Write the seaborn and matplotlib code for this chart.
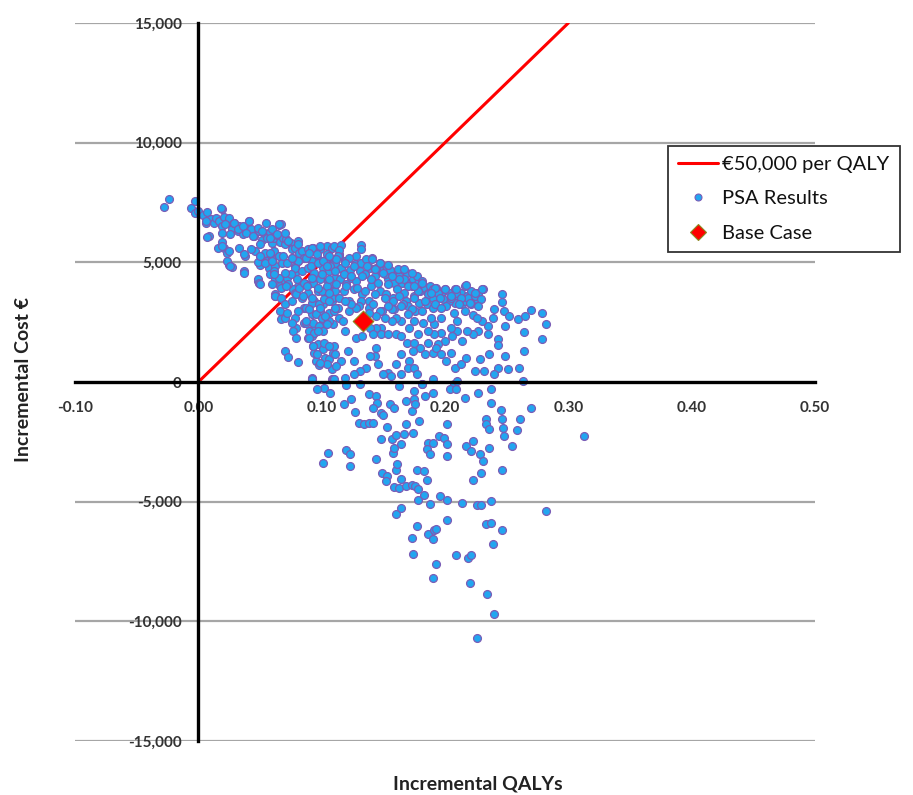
import numpy as np
import pandas as pd
import matplotlib
matplotlib.use("Agg")
import matplotlib.pyplot as plt
import seaborn as sns
from matplotlib.lines import Line2D

# ---------------- data ----------------
wtp_threshold = 50000          # euro per QALY
wtp_qaly = [0.0, 0.30]

base_case_qaly = [0.1335]
base_case_cost = [2550]

x_ticks = [-0.10, 0.00, 0.10, 0.20, 0.30, 0.40, 0.50]
y_ticks = [-15000, -10000, -5000, 0, 5000, 10000, 15000]

# PSA results: (incremental QALY, incremental cost)
psa_upper_left = [
    (-0.028, 7320), (-0.024, 7630), (-0.003, 7560), (-0.006, 7280), (-0.003, 7050),
    (0.000, 7140), (0.004, 6960), (0.006, 6650), (0.007, 7100), (0.010, 6800),
    (0.013, 6630), (0.014, 6860), (0.017, 6725), (0.019, 7240), (0.019, 6515),
    (0.021, 6910), (0.023, 6650), (0.025, 6860), (0.027, 6400), (0.029, 6630),
    (0.032, 6310), (0.033, 6520), (0.036, 6170), (0.038, 6400), (0.041, 6725),
    (0.043, 6380), (0.045, 6100), (0.049, 6310), (0.052, 5930), (0.053, 6240),
    (0.056, 6030), (0.058, 6270), (0.060, 5820), (0.061, 6030), (0.064, 6130),
    (0.065, 6545), (0.066, 5850), (0.069, 6030), (0.070, 5750), (0.071, 5960),
    (0.075, 5820), (0.076, 5540), (0.078, 5610), (0.081, 5890), (0.082, 5400),
    (0.006, 6725), (0.009, 6100), (0.018, 7280), (0.019, 6240), (0.022, 6590),
    (0.026, 6170), (0.029, 6660), (0.032, 6380), (0.036, 6520), (0.039, 6240),
    (0.041, 6730), (0.044, 6100), (0.048, 6450), (0.052, 6310), (0.055, 6660),
    (0.058, 6030), (0.060, 6380), (0.064, 6170), (0.067, 6590), (0.070, 6240),
    (0.065, 6590), (0.073, 5890), (0.081, 5750), (0.084, 5470),
]

psa_upper_mid = [
    (0.007, 6070), (0.019, 5850), (0.021, 5610), (0.016, 5610), (0.023, 5400),
    (0.025, 4870), (0.027, 4800), (0.038, 5260), (0.037, 4590), (0.046, 5470),
    (0.050, 5260), (0.050, 4870), (0.048, 5010), (0.054, 5400), (0.056, 5050),
    (0.057, 4770), (0.060, 5120), (0.061, 5470), (0.062, 4840), (0.065, 5260),
    (0.068, 4980), (0.069, 5260), (0.072, 4980), (0.076, 5190), (0.078, 4840),
    (0.081, 5050), (0.058, 4500), (0.062, 4290), (0.048, 4220), (0.049, 4150),
    (0.066, 4010), (0.070, 4220), (0.072, 4360), (0.078, 4570), (0.081, 4010),
    (0.077, 3870), (0.062, 3660), (0.019, 5680), (0.025, 5470), (0.023, 5050),
    (0.026, 4840), (0.033, 5610), (0.037, 5330), (0.043, 5540), (0.050, 5750),
    (0.050, 5260), (0.054, 4980), (0.058, 5400), (0.060, 5050), (0.037, 4630),
    (0.048, 4290), (0.049, 4150), (0.062, 3590), (0.061, 4630), (0.065, 4350),
    (0.089, 5540), (0.093, 5610), (0.099, 5540), (0.104, 5680), (0.108, 5610),
    (0.114, 5330), (0.110, 5050), (0.104, 5190), (0.097, 5120), (0.092, 5050),
    (0.086, 5190), (0.081, 5050), (0.076, 5190), (0.078, 4770), (0.084, 4630),
    (0.089, 4770), (0.094, 4560), (0.101, 4770), (0.106, 4630), (0.113, 4770),
    (0.111, 4350), (0.105, 4220), (0.099, 4290), (0.093, 4150), (0.087, 4080),
    (0.080, 4290), (0.075, 4500), (0.070, 4560), (0.073, 4080), (0.067, 3940),
    (0.078, 3730), (0.084, 3520), (0.089, 3730), (0.097, 3800), (0.104, 3660),
    (0.110, 3730), (0.108, 3390), (0.101, 3250), (0.094, 3390), (0.086, 3110),
    (0.092, 2830), (0.099, 2970), (0.106, 2900), (0.113, 3110), (0.114, 2690),
    (0.109, 2410), (0.101, 2550), (0.094, 2270), (0.086, 2480), (0.078, 2690),
    (0.079, 2270),
]

psa_low_left = [
    (0.037, 4570), (0.050, 4080), (0.061, 4500), (0.060, 4080), (0.062, 3590),
    (0.067, 3520), (0.066, 2970), (0.067, 2620), (0.070, 2690), (0.070, 3250),
    (0.071, 4010), (0.072, 2900), (0.076, 2480), (0.077, 2130), (0.079, 1850),
    (0.070, 1300), (0.073, 1040), (0.081, 850), (0.076, 3390), (0.079, 3660),
    (0.081, 2970), (0.082, 3940), (0.085, 3590), (0.086, 4150), (0.087, 3110),
    (0.087, 2480), (0.089, 1850), (0.092, 1920), (0.090, 2130), (0.093, 2480),
    (0.094, 2060), (0.095, 2830), (0.092, 3320), (0.098, 3250), (0.100, 3800),
    (0.102, 3450), (0.098, 2340), (0.101, 2130), (0.097, 1570), (0.094, 1220),
    (0.093, 1500), (0.101, 1360), (0.102, 1640), (0.095, 870), (0.098, 730),
    (0.103, 1020), (0.106, 950), (0.108, 540), (0.109, 1220), (0.110, 1500),
    (0.106, 2550), (0.110, 2970), (0.108, 3520), (0.110, 4010), (0.092, 110),
    (0.108, 110), (0.102, -230),
]

psa_core = [
    (0.092, 5610), (0.099, 5680), (0.110, 5680), (0.132, 5720), (0.132, 5540),
    (0.128, 5260), (0.141, 5190), (0.147, 4980), (0.087, 5190), (0.091, 4840),
    (0.097, 4980), (0.104, 5330), (0.111, 4980), (0.116, 4770), (0.119, 5050),
    (0.123, 4700), (0.127, 4910), (0.131, 4630), (0.135, 4500), (0.139, 4770),
    (0.143, 4420), (0.148, 4630), (0.153, 4770), (0.154, 4290), (0.158, 4420),
    (0.162, 4630), (0.165, 4150), (0.169, 4560), (0.170, 4080), (0.174, 4290),
    (0.178, 4150), (0.180, 3800), (0.184, 3940), (0.188, 4010), (0.190, 3520),
    (0.193, 3940), (0.197, 3660), (0.200, 3870), (0.204, 3730), (0.208, 3870),
    (0.210, 3520), (0.213, 3730), (0.216, 4010), (0.218, 3590), (0.221, 3800),
    (0.224, 3450), (0.227, 3730), (0.231, 3870), (0.221, 3250), (0.214, 3250),
    (0.208, 3320), (0.203, 3390), (0.090, 5400), (0.096, 5330), (0.101, 5050),
    (0.107, 4840), (0.114, 5260), (0.122, 5190), (0.124, 4350), (0.128, 4220),
    (0.132, 4980), (0.136, 5120), (0.144, 4770), (0.151, 4500), (0.155, 4700),
    (0.159, 4150), (0.163, 4420), (0.167, 4290), (0.173, 4010), (0.177, 4420),
    (0.181, 4220), (0.186, 3730), (0.190, 3870), (0.194, 3730), (0.198, 3450),
    (0.205, 3520), (0.209, 3730), (0.216, 3390), (0.219, 3520), (0.224, 3590),
    (0.229, 3450), (0.092, 4350), (0.100, 4500), (0.108, 4150), (0.115, 4290),
    (0.120, 4080), (0.126, 3870), (0.133, 3660), (0.140, 4010), (0.147, 3800),
    (0.152, 3660), (0.158, 3520), (0.164, 3660), (0.168, 3390), (0.175, 3590),
    (0.179, 3320), (0.185, 3250), (0.190, 3110), (0.176, 2970), (0.170, 3180),
    (0.149, 2970), (0.159, 3040), (0.138, 3390), (0.132, 3390), (0.111, 3800),
    (0.104, 4010), (0.097, 3940), (0.088, 4010), (0.118, 3800), (0.122, 2970),
    (0.100, 2690),
]

psa_core_fill = [
    (0.116, 5710), (0.114, 5510), (0.113, 5260), (0.141, 5150), (0.147, 4980),
    (0.154, 4870), (0.162, 4710), (0.167, 4730), (0.173, 4570), (0.181, 4150),
    (0.192, 3940), (0.200, 3870), (0.209, 3870), (0.217, 4040), (0.230, 3900),
    (0.224, 3730), (0.213, 3520), (0.205, 3590), (0.196, 3520), (0.186, 3660),
    (0.178, 3800), (0.170, 4010), (0.163, 4290), (0.157, 4430), (0.150, 4570),
    (0.143, 4710), (0.137, 4850), (0.126, 4850), (0.119, 4980), (0.112, 5120),
    (0.106, 5260), (0.104, 4850), (0.111, 4640), (0.118, 4500), (0.124, 4430),
    (0.133, 4430), (0.140, 4290), (0.146, 4150), (0.154, 4080), (0.161, 3870),
    (0.167, 3730), (0.175, 3520), (0.184, 3380), (0.192, 3240), (0.201, 3170),
    (0.211, 3240), (0.220, 3310), (0.227, 3170), (0.106, 4290), (0.112, 4080),
    (0.120, 4010), (0.129, 3940), (0.135, 3800), (0.143, 3660), (0.151, 3520),
    (0.158, 3380), (0.166, 3240), (0.173, 3030), (0.181, 2960), (0.106, 3730),
    (0.114, 3520), (0.122, 3380), (0.130, 3170), (0.138, 3100), (0.147, 2960),
    (0.157, 3030), (0.163, 3590), (0.175, 4010), (0.189, 3730), (0.197, 3100),
    (0.207, 2890), (0.216, 2960), (0.223, 2820),
]

psa_core_low = [
    (0.246, 3660), (0.246, 3350), (0.240, 3040), (0.239, 2690), (0.248, 2970),
    (0.252, 2760), (0.259, 2620), (0.265, 2760), (0.270, 3000), (0.279, 2900),
    (0.282, 2440), (0.279, 1780), (0.264, 2110), (0.260, 570), (0.264, 1290),
    (0.249, 2340), (0.249, 1080), (0.243, 1780), (0.243, 1540), (0.235, 2340),
    (0.235, 1990), (0.230, 2550), (0.227, 2130), (0.226, 2690), (0.223, 1990),
    (0.218, 2130), (0.214, 1710), (0.210, 2130), (0.210, 2550), (0.205, 2270),
    (0.206, 1920), (0.200, 1710), (0.194, 1570), (0.197, 2060), (0.191, 2410),
    (0.191, 1990), (0.189, 2690), (0.197, 2690), (0.186, 2130), (0.182, 2480),
    (0.178, 1990), (0.175, 2550), (0.171, 2270), (0.170, 2830), (0.164, 2550),
    (0.164, 3180), (0.160, 2690), (0.157, 2550), (0.154, 3180), (0.151, 2690),
    (0.148, 2270), (0.144, 2760), (0.144, 2270), (0.142, 3250), (0.138, 2900),
    (0.128, 3110), (0.124, 3250), (0.119, 3390), (0.117, 2550), (0.111, 3110),
    (0.106, 3390), (0.103, 2760), (0.099, 3110), (0.092, 3520), (0.090, 3040),
    (0.087, 2550), (0.090, 1850), (0.097, 2130), (0.104, 2410), (0.119, 2130),
    (0.128, 1850), (0.133, 1920), (0.139, 2270), (0.142, 1990), (0.148, 1990),
    (0.154, 1990), (0.160, 1990), (0.164, 1920), (0.169, 1640), (0.175, 1640),
    (0.180, 1430), (0.184, 1150), (0.186, 1640), (0.190, 1220), (0.193, 1430),
    (0.197, 1150), (0.201, 880), (0.205, 1220), (0.208, 600), (0.213, 740),
    (0.217, 1020), (0.224, 460), (0.228, 950), (0.232, 460), (0.236, 1150),
    (0.243, 600), (0.251, 530), (0.174, 1290), (0.171, 880), (0.170, 600),
    (0.175, 600), (0.177, 320), (0.164, 1150), (0.160, 740), (0.154, 390),
    (0.150, 320), (0.156, 250), (0.164, 320), (0.146, 740), (0.143, 1080),
    (0.144, 1430), (0.139, 1080), (0.136, 600), (0.131, 460), (0.126, 320),
    (0.119, 180), (0.126, 880), (0.121, 1290), (0.116, 880), (0.111, 1150),
    (0.112, 670), (0.106, 1500), (0.104, 740), (0.096, 1150), (0.093, 1500),
    (0.099, 810), (0.092, 180), (0.109, 110), (0.131, -100), (0.190, 110),
    (0.181, -100), (0.207, -100),
]

psa_negative = [
    (0.092, 112), (0.096, -305), (0.107, -446), (0.110, 112), (0.118, -933),
    (0.120, -125), (0.124, -710), (0.127, -1240), (0.130, -1700), (0.134, -1740),
    (0.138, -1700), (0.142, -1700), (0.138, -490), (0.144, -585), (0.145, -860),
    (0.142, -1100), (0.148, -1280), (0.150, -1380), (0.155, -935), (0.153, -1880),
    (0.159, -1070), (0.157, -2400), (0.160, -2215), (0.158, -2950), (0.159, -2770),
    (0.163, -165), (0.164, -2600), (0.168, -1770), (0.167, -2190), (0.168, -795),
    (0.174, -2120), (0.173, -1210), (0.175, -375), (0.175, -725), (0.179, -1630),
    (0.176, -935), (0.181, -100), (0.184, -585), (0.186, -2530), (0.190, -2530),
    (0.185, -2810), (0.188, -2990), (0.190, -445), (0.195, -2255), (0.199, -2320),
    (0.202, -1770), (0.202, -2600), (0.202, -3090), (0.204, -305), (0.209, -305),
    (0.210, 40), (0.216, -655), (0.217, -2670), (0.223, -2460), (0.221, -2880),
    (0.227, -445), (0.228, -3020), (0.231, -3300), (0.229, -3790), (0.223, -4110),
    (0.233, -1560), (0.233, -1770), (0.236, -1980), (0.236, -2740), (0.237, -860),
    (0.237, -305), (0.240, 320), (0.245, -1180), (0.246, -1560), (0.247, -1910),
    (0.248, -2255), (0.246, -3690), (0.254, -2670), (0.258, -2010), (0.261, -1560),
    (0.263, 40), (0.270, -1100), (0.101, -3400), (0.105, -2950), (0.120, -2850),
    (0.123, -2990), (0.123, -3510), (0.144, -3200), (0.148, -2400), (0.149, -3790),
    (0.153, -3930), (0.152, -4140), (0.160, -3690), (0.161, -3440), (0.164, -4070),
    (0.159, -4390), (0.163, -4440), (0.168, -4350), (0.173, -4300), (0.176, -4350),
    (0.178, -4490), (0.177, -3690), (0.183, -3720), (0.185, -4110), (0.183, -4720),
    (0.178, -4940), (0.188, -5110), (0.196, -4760), (0.202, -4940), (0.214, -5050),
    (0.226, -5130), (0.229, -5130), (0.237, -4990), (0.160, -5500), (0.164, -5250),
    (0.177, -6020), (0.173, -6500), (0.186, -6360), (0.191, -6200), (0.193, -6150),
    (0.190, -6570), (0.202, -5780), (0.174, -7170), (0.193, -7590), (0.190, -8200),
    (0.209, -7230), (0.219, -7340), (0.221, -7230), (0.220, -8380), (0.233, -5920),
    (0.237, -5880), (0.246, -6190), (0.239, -6750), (0.234, -8840), (0.240, -9700),
    (0.226, -10680), (0.313, -2250), (0.282, -5390),
]

# ---------------- assemble ----------------
psa = pd.DataFrame(psa_upper_left + psa_upper_mid + psa_low_left + psa_core
                   + psa_core_fill + psa_core_low + psa_negative,
                   columns=["qaly", "cost"])
base = pd.DataFrame({"qaly": base_case_qaly, "cost": base_case_cost})
wtp = pd.DataFrame({"qaly": wtp_qaly})
wtp["cost"] = wtp["qaly"] * wtp_threshold

# ---------------- plot ----------------
sns.set_theme(style="white")
plt.rcParams["font.family"] = ["Lato", "DejaVu Sans"]

W, H = 913, 795
fig = plt.figure(figsize=(W / 100, H / 100), dpi=100)
ax = fig.add_axes([75 / W, 1 - 741 / H, 740 / W, 718 / H])

for yv in y_ticks:
    if yv != 0:
        ax.axhline(yv, color="#a6a6a6", lw=1.6, zorder=0)

sns.lineplot(data=wtp, x="qaly", y="cost", ax=ax, color="#ff0000", lw=2.2,
             zorder=3, legend=False)
sns.scatterplot(data=psa, x="qaly", y="cost", ax=ax, color="#21a6f0",
                edgecolor="#7a5cb6", linewidth=0.9, s=32, zorder=4, legend=False)
sns.scatterplot(data=base, x="qaly", y="cost", ax=ax, marker="D", color="#ff0000",
                edgecolor="#8a8a20", linewidth=0.8, s=110, zorder=6, legend=False)

ax.set_xlim(-0.10, 0.50)
ax.set_ylim(-15000, 15000)
ax.set_xticks(x_ticks)
ax.set_yticks(y_ticks)
ax.set_xticklabels([f"{v:.2f}" for v in x_ticks])
ax.set_yticklabels([f"{v:,.0f}" for v in y_ticks])

for s in ["top", "right"]:
    ax.spines[s].set_visible(False)
ax.spines["left"].set_position(("data", 0))
ax.spines["bottom"].set_position(("data", 0))
for s in ["left", "bottom"]:
    ax.spines[s].set_color("black")
    ax.spines[s].set_linewidth(2.4)
    ax.spines[s].set_zorder(5)

ax.tick_params(axis="x", direction="in", length=7, width=2, color="black",
               pad=14, labelsize=11, labelcolor="#333333")
ax.tick_params(axis="y", direction="out", length=6, width=2, color="black",
               pad=6, labelsize=11, labelcolor="#333333")
for lab in ax.get_xticklabels() + ax.get_yticklabels():
    lab.set_fontweight("bold")

ax.set_xlabel("Incremental QALYs", fontsize=14, fontweight="bold", color="#222222")
ax.set_ylabel("Incremental Cost €", fontsize=14, fontweight="bold", color="#222222")
ax.xaxis.set_label_coords(0.545, -0.048)
ax.yaxis.set_label_coords(-0.058, 0.503)

handles = [
    Line2D([0], [0], color="#ff0000", lw=2.2),
    Line2D([0], [0], marker="o", ls="none", markerfacecolor="#21a6f0",
           markeredgecolor="#7a5cb6", markersize=5, markeredgewidth=0.8),
    Line2D([0], [0], marker="D", ls="none", markerfacecolor="#ff0000",
           markeredgecolor="#8a8a20", markersize=8, markeredgewidth=0.8),
]
labels = ["€50,000 per QALY", "PSA Results", "Base Case"]
leg = fig.legend(handles, labels, loc="upper left",
                 bbox_to_anchor=(668 / W, 1 - 146 / H), bbox_transform=fig.transFigure,
                 frameon=True, fancybox=False, edgecolor="black", fontsize=14.5,
                 handlelength=2.0, handletextpad=0.2, borderpad=0.5,
                 labelspacing=0.85, borderaxespad=0)
leg.get_frame().set_linewidth(1.3)
for t in leg.get_texts():
    t.set_color("#111111")

fig.savefig("out.png", dpi=100)
